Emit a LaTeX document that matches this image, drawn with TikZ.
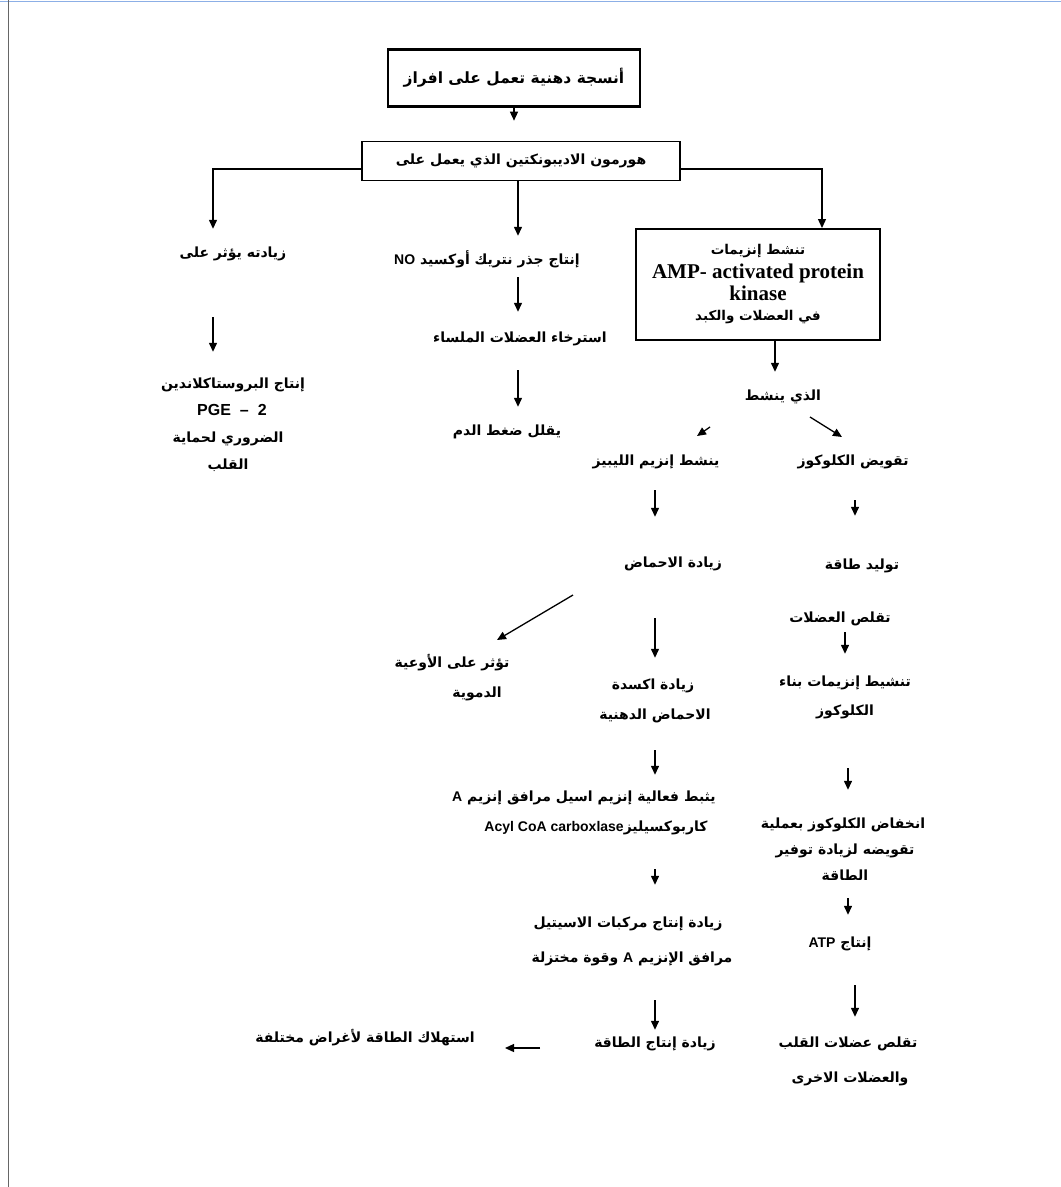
\documentclass[tikz,border=0pt]{standalone}
\usepackage{fontspec}
\usetikzlibrary{arrows.meta,calc}
\TeXXeTstate=1
\newfontfamily\arfont[Script=Arabic]{DejaVu Sans}
\newfontfamily\lsans{Liberation Sans}
\newfontfamily\lserif{Liberation Serif}
\newcommand{\AR}[1]{\beginR #1\endR}
\newcommand{\LT}[1]{{\lsans\bfseries\fontsize{14}{16}\selectfont #1}}
\begin{document}
\begin{tikzpicture}[x=1pt,y=-1pt,
  ar/.style={font=\arfont\bfseries\fontsize{14}{16}\selectfont, inner sep=1pt, text height=8pt, text depth=3pt},
  lt/.style={font=\lsans\bfseries\fontsize{16}{18}\selectfont, inner sep=1pt, text height=8pt, text depth=3pt},
  arr/.style={-{Triangle[length=9pt,width=8pt]}, line width=1.3pt},
  box/.style={draw, line width=1.5pt, inner sep=2pt, align=center}]
\useasboundingbox (0,0) rectangle (1061,1187);
% page frame
\draw[line width=1.2pt, color={rgb,255:red,140;green,175;blue,230}] (0,1.5) -- (1061,1.5);
\draw[line width=1pt, color=black!60] (8,0) -- (8,1187);
% column coordinates
\coordinate (xL) at (213,0);
\coordinate (xM) at (518,0);
\coordinate (xR) at (822,0);
\coordinate (xA) at (775,0);
\coordinate (xC) at (655,0);
\coordinate (xS) at (855,0);
\coordinate (xT) at (845,0);
\coordinate (xU) at (848,0);
% boxes
\node[box, line width=2.4pt, minimum width=252pt, minimum height=57pt,
  font=\arfont\bfseries\fontsize{15.5}{18}\selectfont] (top) at (514,78) {\AR{أنسجة دهنية تعمل على افراز}};
\node[box, minimum width=318pt, minimum height=39pt,
  font=\arfont\bfseries\fontsize{14}{16}\selectfont] (horm) at (521,161) {\AR{هورمون الاديبونكتين الذي يعمل على}};
\node[box, line width=2pt, minimum width=244pt, minimum height=111pt,
  font=\lserif\bfseries\fontsize{21}{22}\selectfont] (amp) at (758,284.5)
  {{\arfont\fontsize{13.5}{15}\selectfont\AR{تنشط إنزيمات}}\\[2pt]
   AMP- activated protein\\ kinase\\[-2pt]
   {\arfont\fontsize{13.5}{15}\selectfont\AR{في العضلات والكبد}}};
% left column
\node[ar] (l1) at (233,255) {\AR{زيادته يؤثر على}};
\node[ar] (l2) at (233,386) {\AR{إنتاج البروستاكلاندين}};
\node[lt] (l3) at (232,413) {PGE\hspace{9pt}–\hspace{9pt}2};
\node[ar] (l4) at (228,440) {\AR{الضروري لحماية}};
\node[ar] (l5) at (228,467) {\AR{القلب}};
% middle column
\node[ar] (m1) at (487,262) {\AR{إنتاج جذر نتريك أوكسيد \LT{NO}}};
\node[ar] (m2) at (520,340) {\AR{استرخاء العضلات الملساء}};
\node[ar] (m3) at (507,433) {\AR{يقلل ضغط الدم}};
% right part
\node[ar] (r1) at (783,398) {\AR{الذي ينشط}};
\node[ar] (r2) at (656,463) {\AR{ينشط إنزيم الليبيز}};
\node[ar] (r3) at (853,463) {\AR{تقويض الكلوكوز}};
\node[ar] (r4) at (673,565) {\AR{زيادة الاحماض}};
\node[ar] (r5a) at (452,665) {\AR{تؤثر على الأوعية}};
\node[ar] (r5b) at (477,695) {\AR{الدموية}};
\node[ar] (r6a) at (653,687) {\AR{زيادة اكسدة}};
\node[ar] (r6b) at (655,717) {\AR{الاحماض الدهنية}};
\node[ar] (r7a) at (584,799) {\AR{يثبط فعالية إنزيم اسيل مرافق إنزيم \LT{A}}};
\node[ar] (r7b) at (596,829) {\AR{كاربوكسيليز\beginL\LT{Acyl CoA carboxlase}\endL}};
\node[ar] (r8a) at (628,925) {\AR{زيادة إنتاج مركبات الاسيتيل}};
\node[ar] (r8b) at (632,960) {\AR{مرافق الإنزيم \LT{A} وقوة مختزلة}};
\node[ar] (r9) at (655,1045) {\AR{زيادة إنتاج الطاقة}};
\node[ar] (r10) at (365,1040) {\AR{استهلاك الطاقة لأغراض مختلفة}};
% far right column
\node[ar] (s1) at (862,567) {\AR{توليد طاقة}};
\node[ar] (s2) at (840,620) {\AR{تقلص العضلات}};
\node[ar] (s3a) at (845,684) {\AR{تنشيط إنزيمات بناء}};
\node[ar] (s3b) at (845,713) {\AR{الكلوكوز}};
\node[ar] (s4a) at (843,826) {\AR{انخفاض الكلوكوز بعملية}};
\node[ar] (s4b) at (845,852) {\AR{تقويضه لزيادة توفير}};
\node[ar] (s4c) at (845,878) {\AR{الطاقة}};
\node[ar] (s5) at (840,945) {\AR{إنتاج \LT{ATP}}};
\node[ar] (s6a) at (848,1045) {\AR{تقلص عضلات القلب}};
\node[ar] (s6b) at (850,1080) {\AR{والعضلات الاخرى}};
% connectors
\draw[arr, shorten >=1pt] (top.south) -- ($(top.south)+(0,14)$);
\draw[arr, shorten >=19.5pt] ([yshift=-8pt]horm.west) -| (l1.north -| xL);
\draw[arr, shorten >=19.5pt] (horm.south -| xM) -- (m1.north -| xM);
\draw[arr] ([yshift=-8pt]horm.east) -| (amp.north -| xR);
\draw[arr, shorten <=55.5pt, shorten >=27.5pt] (l1.south -| xL) -- (l2.north -| xL);
\draw[arr, shorten <=8.5pt, shorten >=21.5pt] (m1.south -| xM) -- (m2.north -| xM);
\draw[arr, shorten <=23.5pt, shorten >=19.5pt] (m2.south -| xM) -- (m3.north -| xM);
\draw[arr, shorten >=19.5pt] (amp.south -| xA) -- (r1.north -| xA);
\draw[arr] ($(r1.center)+(-73,29)$) -- ($(r2.center)+(41,-27)$);
\draw[arr] ($(r1.center)+(27,19)$) -- ($(r3.center)+(-11,-26)$);
\draw[arr, shorten <=20.5pt, shorten >=41.5pt] (r2.south -| xC) -- (r4.north -| xC);
\draw[arr, shorten <=30.5pt, shorten >=44.5pt] (r3.south -| xS) -- (s1.north -| xS);
\draw[arr] ($(r4.center)+(-100,30)$) -- ($(r5a.center)+(45,-25)$);
\draw[arr, shorten <=46.5pt, shorten >=22.5pt] (r4.south -| xC) -- (r6a.north -| xC);
\draw[arr, shorten <=26.5pt, shorten >=17.5pt] (r6b.south -| xC) -- (r7a.north -| xC);
\draw[arr, shorten <=33.5pt, shorten >=33.5pt] (r7b.south -| xC) -- (r8a.north -| xC);
\draw[arr, shorten <=33.5pt, shorten >=8.5pt] (r8b.south -| xC) -- (r9.north -| xC);
\draw[arr] ($(r9.center)+(-115,3)$) -- ($(r10.center)+(140,8)$);
\draw[arr, shorten <=5.5pt, shorten >=23.5pt] (s2.south -| xT) -- (s3a.north -| xT);
\draw[arr, shorten <=48.5pt, shorten >=29.5pt] (s3b.south -| xU) -- (s4a.north -| xU);
\draw[arr, shorten <=13.5pt, shorten >=23.5pt] (s4c.south -| xU) -- (s5.north -| xU);
\draw[arr, shorten <=33.5pt, shorten >=21.5pt] (s5.south -| xS) -- (s6a.north -| xS);
\end{tikzpicture}
\end{document}
